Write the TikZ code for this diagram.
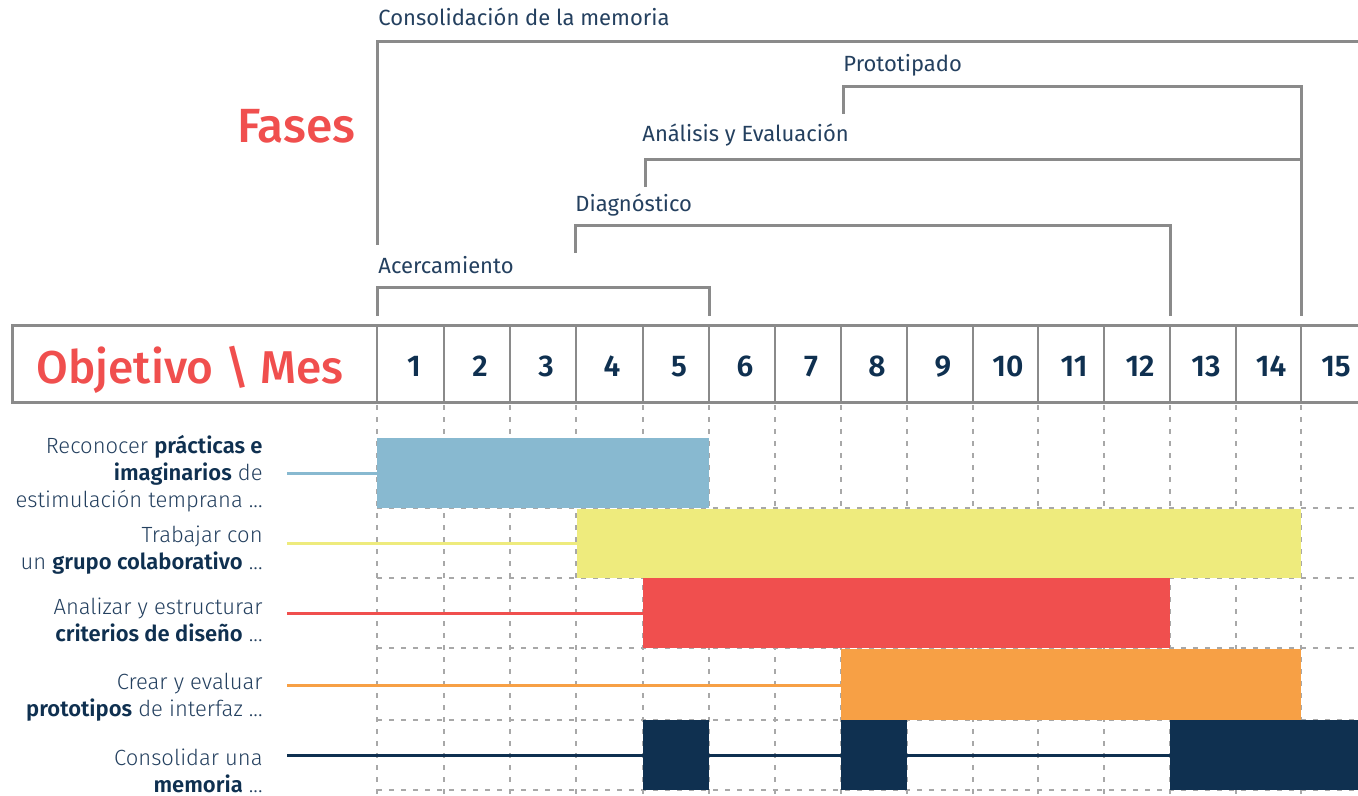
\documentclass[tikz,border=0pt]{standalone}
\usepackage{fontspec}
\setmainfont{Fira Sans}
\newfontfamily\lightfont{Fira Sans Light}
\newfontfamily\semifont{Fira Sans SemiBold}
\newfontfamily\medfont{Fira Sans Medium}
\newfontfamily\condfont{Fira Sans}
\usepackage{tikz}
\usetikzlibrary{positioning,calc,fit}
\usepackage{xcolor}
\definecolor{barblue}{HTML}{88B9D0}
\definecolor{baryellow}{HTML}{EEEB7D}
\definecolor{barred}{HTML}{F04F4E}
\definecolor{barorange}{HTML}{F7A045}
\definecolor{navy}{HTML}{0F3050}
\definecolor{navytext}{HTML}{24405F}
\definecolor{titlered}{HTML}{F04F4E}
\definecolor{linegray}{HTML}{8A8A8A}
\definecolor{gridgray}{HTML}{A8A8A8}
\newcommand\keyw[1]{{\semifont\color{navy}#1}}

\begin{document}
\begin{tikzpicture}[x=0.5pt,y=-0.5pt,
    phase/.style={draw=linegray, line width=1.5pt},
    phaselbl/.style={anchor=base west, inner sep=0pt, font=\condfont\fontsize{11}{13}\selectfont, text=navytext},
    month/.style={anchor=base, inner sep=0pt, font=\semifont\fontsize{15}{18}\selectfont, text=navy},
    title/.style={inner sep=0pt, font=\medfont\fontsize{23}{26}\selectfont, text=titlered},
    gridline/.style={draw=gridgray, line width=0.8pt, dash pattern=on 2.5pt off 3.5pt},
    bar/.style={inner sep=0pt, outer sep=0pt, draw=none},
    goal/.style={anchor=east, align=right, inner sep=0pt, font=\lightfont\fontsize{11}{13.5}\selectfont, text=navytext},
    link/.style={line width=1.5pt}]
    \useasboundingbox (0,0) rectangle (1358,796);
    \clip (0,0) rectangle (1358,796);
    % dashed month grid
    \foreach \x in {377,444,510,576,643,709,775,841,907,973,1038,1104,1170,1236,1301}
        \draw[gridline] (\x,405) -- (\x,796);
    \foreach \y in {508,578,648,720,790}
        \draw[gridline] (377,\y) -- (1370,\y);
    % header row
    \draw[draw=linegray, line width=1.5pt] (12,326) rectangle (1375,402);
    \foreach \x in {377,444,510,576,643,709,775,841,907,973,1038,1104,1170,1236,1301}
        \draw[linegray, line width=1.2pt] (\x,326) -- (\x,402);
    \foreach \x [count=\m] in {414,480,546,612,679,745,811,877,943,1008,1074,1140,1206,1271,1336}
        \node[month] (m\m) at (\x,376) {\m};
    \node[title, anchor=base west] (objmes) at (36,383) {Objetivo \textbackslash{} Mes};
    \node[title, anchor=base east, font=\medfont\fontsize{24}{27}\selectfont] (fases) at (356,143) {Fases};
    % phases
    \node[phaselbl] (consol) at (378,26) {Consolidación de la memoria};
    \node[phaselbl] (proto) at (843,72) {Prototipado};
    \node[phaselbl] (anal) at (642,142) {Análisis y Evaluación};
    \node[phaselbl] (diag) at (575,212) {Diagnóstico};
    \node[phaselbl] (acerc) at (378,274) {Acercamiento};
    \draw[phase] (377,245) |- (1375,42);
    \draw[phase] (843,114) |- (1301,87) -- (1301,316);
    \draw[phase] (645,187) |- (1301,160);
    \draw[phase] (575,253) |- (1170,226) -- (1170,316);
    \draw[phase] (377,316) |- (709,288) -- (709,316);
    % objectives
    \node[goal] (g1) at (263,474) {Reconocer \keyw{prácticas e}\\ \keyw{imaginarios} de\\ estimulación temprana ...};
    \node[goal] (g2) at (263,550) {Trabajar con\\ un \keyw{grupo colaborativo} ...};
    \node[goal] (g3) at (263,620) {Analizar y estructurar\\ \keyw{criterios de diseño} ...};
    \node[goal] (g4) at (263,697) {Crear y evaluar\\ \keyw{prototipos} de interfaz ...};
    \node[goal] (g5) at (263,771) {Consolidar una\\ \keyw{memoria} ...};
    % bars
    \node[bar, fill=barblue, fit={(377,438) (709,508)}] (b1) {};
    \node[bar, fill=baryellow, fit={(577,509) (1301,578)}] (b2) {};
    \node[bar, fill=barred, fit={(643,578) (1170,648)}] (b3) {};
    \node[bar, fill=barorange, fit={(841,649) (1301,720)}] (b4) {};
    \node[bar, fill=navy, fit={(643,720) (709,790)}] (b5a) {};
    \node[bar, fill=navy, fit={(841,720) (907,790)}] (b5b) {};
    \node[bar, fill=navy, fit={(1170,720) (1370,790)}] (b5c) {};
    % links
    \draw[link, barblue] (287,473) coordinate (s1) -- (s1 -| b1.west);
    \draw[link, baryellow] (287,543) coordinate (s2) -- (s2 -| b2.west);
    \draw[link, barred] (287,613) coordinate (s3) -- (s3 -| b3.west);
    \draw[link, barorange] (287,685) coordinate (s4) -- (s4 -| b4.west);
    \draw[link, navy] (287,755) coordinate (s5) -- (s5 -| b5c.west);
\end{tikzpicture}
\end{document}
